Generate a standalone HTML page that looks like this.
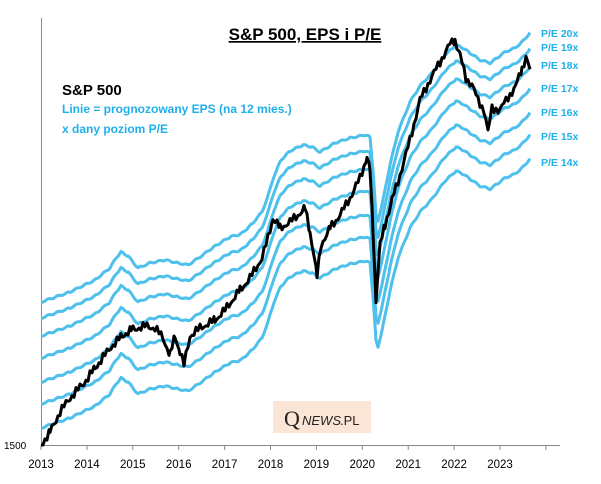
<!DOCTYPE html>
<html><head><meta charset="utf-8"><style>
body{margin:0;background:#fff;width:601px;height:484px;overflow:hidden}
svg{display:block;font-family:"Liberation Sans",sans-serif}
</style></head><body>
<svg id="s" width="601" height="484" viewBox="0 0 601 484">
<line x1="41.5" y1="18" x2="41.5" y2="446" stroke="#888" stroke-width="1"/>
<line x1="41" y1="445.5" x2="560" y2="445.5" stroke="#888" stroke-width="1"/>
<g id="ticks"></g>
<g id="lines" fill="none" stroke="#4dc0ec" stroke-width="3" stroke-linejoin="round"></g>
<polyline id="sp" fill="none" stroke="#000" stroke-width="3" stroke-linejoin="round"/>
<text x="4" y="449" font-size="10" fill="#000">1500</text>
<text x="305" y="40" font-size="17" font-weight="bold" text-anchor="middle" text-decoration="underline">S&amp;P 500, EPS i P/E</text>
<text x="62" y="95" font-size="15" font-weight="bold">S&amp;P 500</text>
<text x="62" y="113" font-size="12" font-weight="bold" fill="#1fb0ea">Linie = prognozowany EPS (na 12 mies.)</text>
<text x="62" y="133" font-size="12" font-weight="bold" fill="#1fb0ea">x dany poziom P/E</text>
<g font-size="10.5" font-weight="bold" fill="#1fb0ea">
<text x="541" y="37">P/E 20x</text><text x="541" y="51">P/E 19x</text><text x="541" y="69">P/E 18x</text>
<text x="541" y="92">P/E 17x</text><text x="541" y="116">P/E 16x</text><text x="541" y="140">P/E 15x</text>
<text x="541" y="166">P/E 14x</text></g>
<rect x="273" y="401" width="98" height="32" fill="#fbe5d6"/>
<text x="284" y="426" font-family="Liberation Serif" font-size="22" fill="#222">Q</text>
<text x="302" y="425" font-size="13" font-style="italic" fill="#222">NEWS</text>
<text x="340" y="425" font-size="13" fill="#222">.PL</text>
</svg>
<script>
(function(){
var ns="http://www.w3.org/2000/svg";
var tk=document.getElementById('ticks');
for(var i=0;i<=11;i++){var x=41+i*45.9;
 var l=document.createElementNS(ns,'line');l.setAttribute('x1',x);l.setAttribute('x2',x);l.setAttribute('y1',445);l.setAttribute('y2',450);l.setAttribute('stroke','#888');tk.appendChild(l);
 if(i<11){var t=document.createElementNS(ns,'text');t.setAttribute('x',x);t.setAttribute('y',468);t.setAttribute('font-size','11.5');t.setAttribute('text-anchor','middle');t.textContent=2013+i;tk.appendChild(t);}}
var topPts=[[41,302],[70,292],[95,280],[110,268],[116,258],[121,252],[128,256],[138,268],[150,263],[165,260],[178,263],[188,265],[200,257],[215,246],[230,237],[241,234],[252,224],[262,212],[268,196],[274,176],[281,160],[290,151],[303,145],[312,147],[320,152],[335,143],[350,138],[365,135],[370,137],[373,170],[376,215],[378,221],[383,200],[390,165],[398,132],[410,102],[420,86],[432,73],[445,55],[456,45],[463,48],[470,53],[480,60],[490,63],[497,58],[505,52],[515,48],[522,42],[530,33]];
function interp(p){var o=[];for(var k=0;k<p.length-1;k++){var a=p[k],b=p[k+1];for(var x=a[0];x<b[0];x+=2){var f=(x-a[0])/(b[0]-a[0]);o.push([x,a[1]+(b[1]-a[1])*f]);}}o.push(p[p.length-1]);return o;}
var T=interp(topPts),g=document.getElementById('lines');
var offs=[0,16,34,56,80,102,126];
offs.forEach(function(d){var pl=document.createElementNS(ns,'polyline');
 pl.setAttribute('points',T.map(function(q,k){return q[0]+','+(q[1]+d+Math.sin(k*1.3)*0.8).toFixed(1)}).join(' '));g.appendChild(pl);});
var sp=[[41,445],[50,432],[60,412],[70,398],[84,383],[95,368],[111,347],[122,336],[131,330],[145,326],[155,328],[163,338],[170,355],[175,336],[180,352],[184,365],[190,336],[200,328],[215,320],[225,310],[240,290],[250,278],[262,258],[268,238],[273,218],[280,228],[290,222],[298,215],[305,208],[310,232],[314,255],[317,277],[321,245],[330,228],[340,215],[350,198],[360,178],[367,157],[370,170],[373,230],[376,300],[380,245],[385,225],[392,200],[400,175],[410,140],[420,100],[430,80],[440,62],[450,44],[455,40],[460,55],[466,78],[472,85],[478,100],[484,110],[488,132],[492,108],[500,110],[508,97],[515,88],[522,68],[526,58],[530,70]];
var S=interp(sp);
document.getElementById('sp').setAttribute('points',S.map(function(q,k){return q[0]+','+(q[1]+Math.sin(k*2.7)*3+Math.sin(k*0.9)*2).toFixed(1)}).join(' '));
})();
</script>
</body></html>
